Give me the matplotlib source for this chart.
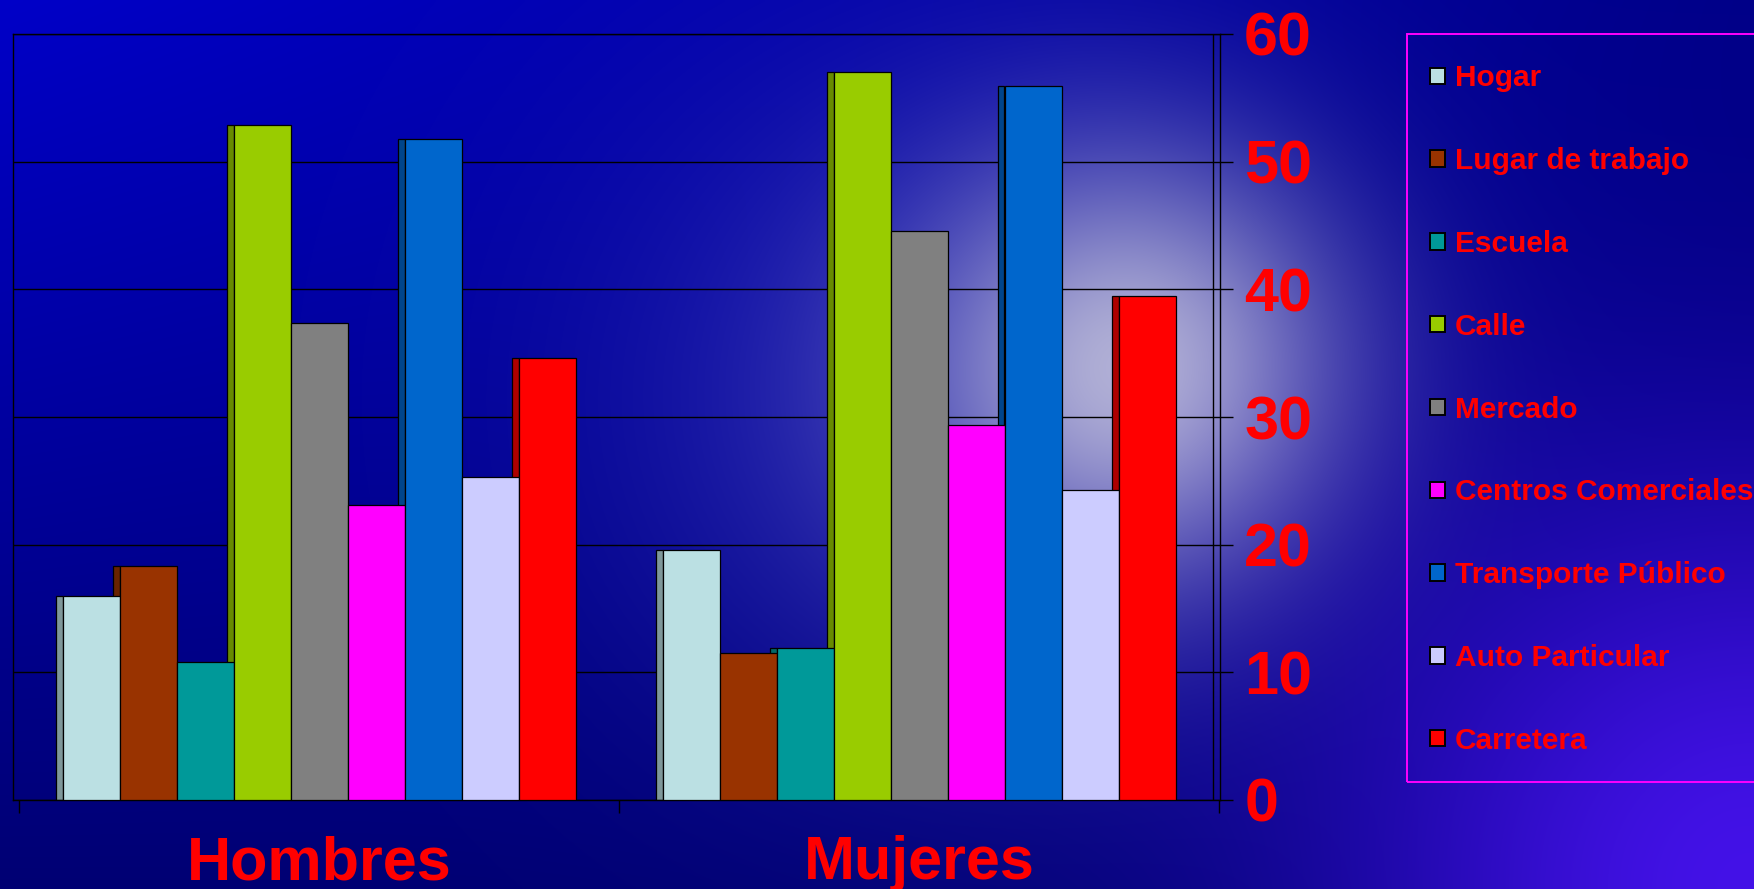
import numpy as np
import matplotlib
matplotlib.use("Agg")
import matplotlib.pyplot as plt
from matplotlib.colors import to_rgb
from matplotlib.patches import Patch, Rectangle

# ---------------- data ----------------
categories = ["Hombres", "Mujeres"]
places = ["Hogar", "Lugar de trabajo", "Escuela", "Calle", "Mercado",
          "Centros Comerciales", "Transporte Público", "Auto Particular", "Carretera"]
hombres = [16.0, 18.3, 10.8, 52.9, 37.4, 23.1, 51.8, 25.3, 34.6]
mujeres = [19.6, 11.5, 11.9, 57.0, 44.6, 29.4, 55.9, 24.3, 39.5]
colors = ["#BBE0E3", "#993300", "#009999", "#99CC00", "#808080",
          "#FF00FF", "#0066CC", "#CCCCFF", "#FF0000"]
y_ticks = [0, 10, 20, 30, 40, 50, 60]

FONT = "Liberation Sans"
RED = "#FF0000"

W, H, DPI = 1754, 889, 100
fig = plt.figure(figsize=(W / DPI, H / DPI), dpi=DPI)

# ---------------- background (slide backdrop) ----------------
bg = fig.add_axes([0, 0, 1, 1], zorder=-10)
bg.set_axis_off()
h, w = H // 3, W // 3
yy, xx = np.mgrid[0:h, 0:w]
X = (xx + 0.5) * W / w
Y = (yy + 0.5) * H / h
img = np.zeros((h, w, 3))
img[..., 2] = (200 - 85 * (Y / H) - 65 * (X / W) * (1 - Y / H)) / 255.0


def blend(img, cx, cy, sig, col, a):
    g = np.exp(-((X - cx) ** 2 + (Y - cy) ** 2) / (2 * sig ** 2)) * a
    c = np.array(col) / 255.0
    return img * (1 - g[..., None]) + c * g[..., None]


img = blend(img, 930, 400, 240, (55, 55, 190), 0.6)
img = blend(img, 1130, 370, 150, (200, 200, 220), 0.88)
img = blend(img, 1754, 889, 300, (75, 20, 245), 0.9)
img = np.clip(img, 0, 1)
bg.imshow(img, extent=[0, 1, 0, 1], aspect="auto", interpolation="bilinear",
          transform=bg.transAxes)

# ---------------- main axes ----------------
ax = fig.add_axes([13 / W, 1 - 800 / H, (1220 - 13) / W, (800 - 34) / H])
ax.patch.set_alpha(0)
px_per_group = 600.0
ax.set_xlim(-(19 - 13) / px_per_group, 2 + 1 / px_per_group)
ax.set_ylim(0, 60)

group_pos = np.arange(len(categories)) + 0.5
bw = 0.095
sw = 0.011
for i, (place, c) in enumerate(zip(places, colors)):
    vals = [hombres[i], mujeres[i]]
    xc = group_pos + (i - 4) * bw
    dark = tuple(v * 0.68 for v in to_rgb(c))
    ax.bar(xc - bw / 2 - sw / 2, vals, width=sw, color=dark,
           edgecolor="black", linewidth=0.9, zorder=2)
    ax.bar(xc, vals, width=bw, color=c, edgecolor="black",
           linewidth=0.9, zorder=3)

# back wall edge line
ax.axvline(1.99, color="black", lw=1.0, zorder=1)

for s in ax.spines.values():
    s.set_color("black")
    s.set_linewidth(1.0)

ax.set_axisbelow(True)
ax.yaxis.grid(True, color="black", linewidth=1.0)
ax.xaxis.grid(False)

ax.set_xticks([0, 1, 2])
ax.set_xticklabels([])
ax.tick_params(axis="x", direction="out", length=9.4, width=1.0, color="black")

ax.yaxis.tick_right()
ax.set_yticks(y_ticks)
ax.set_yticklabels([str(v) for v in y_ticks])
ax.tick_params(axis="y", which="both", direction="out", length=9.4, width=1.0,
               color="black", pad=8, labelsize=44, labelcolor=RED,
               left=False, right=True)
for lab in ax.get_yticklabels():
    lab.set_fontfamily(FONT)
    lab.set_fontweight("bold")

for gx, name in zip(group_pos, categories):
    ax.text(gx, -(879 - 800) / 766.0, name, transform=ax.get_xaxis_transform(),
            ha="center", va="baseline", fontsize=44, fontweight="bold",
            color=RED, family=FONT)

# ---------------- legend ----------------
frame = Rectangle((1407 / W, 1 - 782 / H), (1770 - 1407) / W, (782 - 34) / H,
                  transform=fig.transFigure, facecolor="none",
                  edgecolor="#FF00FF", linewidth=1.4, clip_on=False)
fig.patches.append(frame)

handles = [Patch(facecolor=c, edgecolor="black", linewidth=1.4) for c in colors]
leg = ax.legend(handles, places, loc="upper left",
                bbox_to_anchor=(1430 / W, 1 - 64.5 / H),
                bbox_transform=fig.transFigure, borderaxespad=0,
                prop=dict(family=FONT, weight="bold", size=21.5),
                labelcolor=RED, frameon=False,
                borderpad=0, labelspacing=1.835, handlelength=0.5,
                handleheight=0.47, handletextpad=0.33)

fig.savefig("out.png", dpi=DPI)
